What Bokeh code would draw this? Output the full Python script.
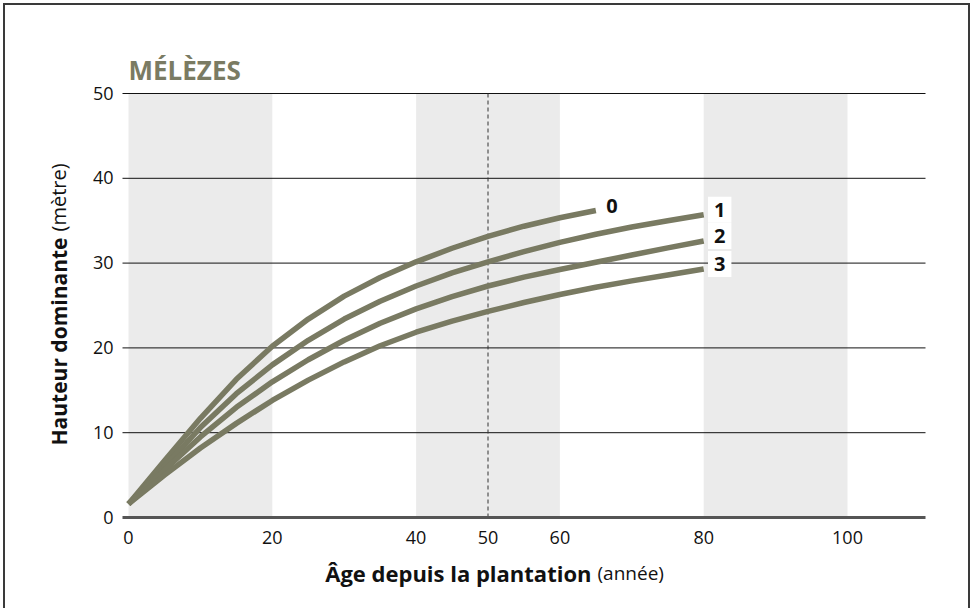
import math
from bokeh.plotting import figure
from bokeh.models import Range1d, Label, ColumnDataSource
from bokeh.core.properties import value
from bokeh.embed import file_html
from bokeh.resources import INLINE

# ---- data ----
AGE = [0, 5, 10, 15, 20, 25, 30, 35, 40, 45, 50, 55, 60, 65, 70, 75, 80]
H0 = [1.6, 6.7, 11.7, 16.3, 20.2, 23.4, 26.1, 28.3, 30.15, 31.75, 33.15, 34.35, 35.35, 36.2]
H1 = [1.6, 6.0, 10.6, 14.6, 18.0, 20.9, 23.4, 25.5, 27.3, 28.85, 30.15, 31.35, 32.45, 33.4, 34.25, 35.0, 35.7]
H2 = [1.6, 5.6, 9.5, 13.0, 16.0, 18.6, 20.9, 22.9, 24.6, 26.05, 27.3, 28.35, 29.25, 30.1, 30.95, 31.8, 32.6]
H3 = [1.6, 5.0, 8.2, 11.1, 13.8, 16.2, 18.35, 20.25, 21.85, 23.15, 24.3, 25.35, 26.3, 27.15, 27.9, 28.6, 29.3]
CLASSES = ["0", "1", "2", "3"]
SERIES = [H0, H1, H2, H3]

BAND_LEFT = [0, 40, 80]
BAND_RIGHT = [20, 60, 100]
REF_AGE = 50
X_TICKS = [0, 20, 40, 50, 60, 80, 100]
Y_TICKS = [0, 10, 20, 30, 40, 50]
Y_MAX = 50
X_AXIS_END = 110.85

TITLE = "MÉLÈZES"
XLAB_BOLD, XLAB_REG = "Âge depuis la plantation", "(année)"
YLAB_BOLD, YLAB_REG = "Hauteur dominante", "(mètre)"

CURVE_COLOR = "#797a62"
FONT = "Open Sans"

# ---- layout (page pixels) ----
EL_X, EL_Y = 3, 3          # where the figure element sits on the page
BORDER = 2
W_EL, H_EL = 967, 605
CX, CY = EL_X + BORDER, EL_Y + BORDER
CW, CH = W_EL, H_EL        # canvas keeps the requested size
SX, SY = 7.19, 8.48        # px per data unit
X0_PX, Y0_PX = 128, 517    # page position of (0, 0)
AX_LEFT_PX = 122

x_start = -(X0_PX - CX) / SX
x_end = x_start + CW / SX
y_end = (Y0_PX - CY) / SY
y_start = y_end - CH / SY
PXX, PXY = 1 / SX, 1 / SY
axis_start = -(X0_PX - AX_LEFT_PX) * PXX

p = figure(width=W_EL, height=H_EL,
           x_range=Range1d(x_start, x_end), y_range=Range1d(y_start, y_end),
           output_backend="svg", toolbar_location=None,
           min_border=0, min_border_left=0, min_border_right=0,
           min_border_top=0, min_border_bottom=0)
p.styles = {"margin-left": f"{EL_X}px", "margin-top": f"{EL_Y}px",
            "border-top": "2px solid #3a3a3a",
            "border-left": "2px solid #3a3a3a",
            "border-right": "2px solid #3a3a3a",
            "border-bottom": "none"}
p.axis.visible = False
p.grid.visible = False
p.outline_line_color = None
p.background_fill_color = "white"
p.border_fill_color = "white"

# grey bands
bands = ColumnDataSource(dict(left=BAND_LEFT, right=BAND_RIGHT,
                              bottom=[0] * len(BAND_LEFT), top=[Y_MAX] * len(BAND_LEFT)))
p.quad(left="left", right="right", bottom="bottom", top="top", source=bands,
       fill_color="#ebebeb", line_color=None)

# horizontal grid lines
gy = Y_TICKS[1:]
p.segment(x0=[axis_start] * len(gy), x1=[X_AXIS_END] * len(gy), y0=gy, y1=gy,
          line_color="#111111", line_width=1)

# reference dashed line
p.segment(x0=[REF_AGE], x1=[REF_AGE], y0=[0], y1=[Y_MAX],
          line_color="#333333", line_width=1, line_dash="4 3")

# x axis line
p.segment(x0=[axis_start], x1=[X_AXIS_END], y0=[0], y1=[0],
          line_color="#555555", line_width=3)

# curves
for h in SERIES:
    p.line(AGE[:len(h)], h, line_color=CURVE_COLOR, line_width=5.5, line_join="round")

# curve labels
for name, h in zip(CLASSES, SERIES):
    p.add_layout(Label(x=AGE[len(h) - 1] + 16 * PXX, y=h[-1] + 5 * PXY, text=name,
                       text_align="center", text_baseline="middle",
                       text_font=FONT, text_font_style="bold", text_font_size="20px",
                       text_color="#111111", background_fill_color="white", padding=6))

# tick labels
p.text(x=X_TICKS, y=[-20 * PXY] * len(X_TICKS), text=[str(t) for t in X_TICKS],
       text_align="center", text_baseline="alphabetic",
       text_font=value(FONT), text_font_size="18px", text_color="#111111")
p.text(x=[-15 * PXX] * len(Y_TICKS), y=[t + 0.5 * PXY for t in Y_TICKS],
       text=[str(t) for t in Y_TICKS],
       text_align="right", text_baseline="alphabetic",
       text_font=value(FONT), text_font_size="18px", text_color="#111111")

# title
p.add_layout(Label(x=0, y=(Y0_PX - 69) * PXY, text=TITLE, text_font=FONT, text_font_style="bold",
                   text_font_size="26px", text_color="#7a7b63", text_baseline="alphabetic"))

# x axis title
xl_y = -(572 - Y0_PX) * PXY
p.add_layout(Label(x=(591 - X0_PX) * PXX, y=xl_y, text=XLAB_BOLD, text_font=FONT,
                   text_font_style="bold", text_font_size="22px", text_color="#111111",
                   text_align="right", text_baseline="alphabetic"))
p.add_layout(Label(x=(597 - X0_PX) * PXX, y=xl_y, text=XLAB_REG, text_font=FONT,
                   text_font_style="normal", text_font_size="19px", text_color="#111111",
                   text_align="left", text_baseline="alphabetic"))

# y axis title (rotated)
yl_x = -(X0_PX - 58) * PXX
p.add_layout(Label(x=yl_x, y=(Y0_PX - 237) * PXY, text=YLAB_BOLD, angle=math.pi / 2,
                   text_font=FONT, text_font_style="bold", text_font_size="21px",
                   text_color="#111111", text_align="right", text_baseline="alphabetic"))
p.add_layout(Label(x=yl_x, y=(Y0_PX - 231) * PXY, text=YLAB_REG, angle=math.pi / 2,
                   text_font=FONT, text_font_style="normal", text_font_size="20px",
                   text_color="#111111", text_align="left", text_baseline="alphabetic"))

open("out.html", "w").write(file_html(p, INLINE))
